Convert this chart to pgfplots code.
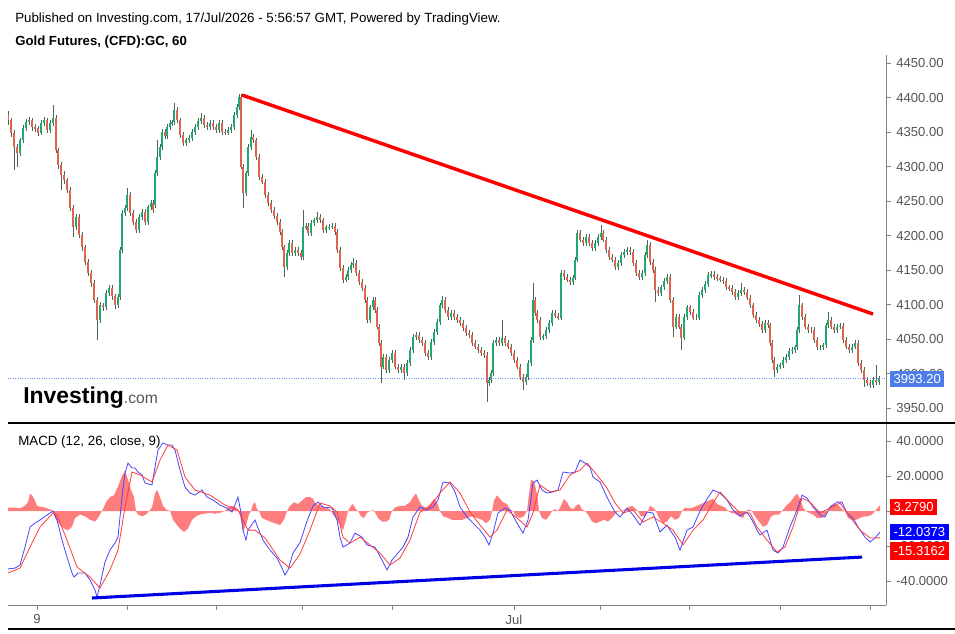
\documentclass[border=0pt]{standalone}
\usepackage{fontspec}
\setmainfont{Liberation Sans}
\usepackage{pgfplots}
\usepackage{pgfplotstable}
\pgfplotsset{compat=1.18}
\definecolor{upc}{RGB}{30,170,110}
\definecolor{dnc}{RGB}{226,98,82}
\definecolor{wickc}{RGB}{40,78,58}
\definecolor{macdc}{RGB}{70,70,255}
\definecolor{sigc}{RGB}{255,60,60}
\definecolor{histc}{RGB}{255,125,125}
\definecolor{axgray}{RGB}{130,130,130}
\definecolor{labgray}{RGB}{85,85,85}
\definecolor{lastblue}{RGB}{78,124,232}
\definecolor{dotblue}{RGB}{110,150,240}

\pgfplotstableread{
x o h l c
8 4374 4380 4360 4367
11 4367 4371 4343 4349
14 4349 4353 4295 4328
17 4328 4332 4299 4320
20 4320 4342 4316 4338
23 4338 4360 4334 4356
26 4356 4369 4352 4364
29 4364 4372 4360 4367
32 4367 4371 4352 4357
35 4357 4361 4350 4356
38 4356 4359 4344 4349
41 4349 4367 4345 4363
44 4363 4372 4359 4367
47 4367 4370 4349 4353
50 4353 4368 4349 4363
53 4363 4389 4359 4370
56 4370 4374 4319 4324
58 4324 4327 4297 4302
61 4302 4306 4266 4288
64 4288 4293 4275 4280
67 4280 4284 4261 4266
70 4266 4270 4235 4240
73 4240 4244 4198 4212
76 4212 4231 4208 4227
79 4227 4231 4196 4201
82 4201 4205 4178 4183
85 4183 4187 4157 4162
88 4162 4166 4141 4146
91 4146 4150 4126 4131
94 4131 4135 4102 4107
97 4107 4111 4049 4078
100 4078 4104 4074 4099
103 4099 4103 4090 4096
106 4096 4121 4092 4117
109 4117 4129 4113 4124
112 4124 4128 4107 4112
115 4112 4116 4094 4099
118 4099 4115 4095 4111
120 4111 4183 4107 4179
122 4179 4237 4175 4233
125 4233 4244 4229 4240
127 4240 4269 4236 4259
130 4259 4263 4228 4233
133 4233 4237 4215 4220
136 4220 4224 4203 4208
139 4208 4231 4204 4227
142 4227 4238 4223 4234
145 4234 4238 4215 4220
148 4220 4245 4216 4241
151 4241 4252 4237 4247
153 4247 4251 4232 4237
155 4245 4295 4240 4291
157 4291 4338 4287 4314
160 4314 4332 4310 4328
162 4328 4354 4324 4350
165 4350 4354 4340 4344
167 4344 4361 4340 4357
170 4357 4367 4353 4363
172 4363 4368 4359 4364
174 4364 4392 4360 4382
177 4382 4386 4363 4367
180 4367 4371 4342 4346
183 4346 4350 4330 4334
186 4334 4342 4330 4338
189 4338 4345 4334 4341
192 4341 4354 4337 4350
195 4350 4361 4346 4357
198 4357 4370 4353 4366
201 4366 4378 4362 4370
204 4370 4374 4356 4360
207 4360 4364 4353 4357
210 4357 4367 4353 4363
213 4363 4367 4353 4357
216 4357 4361 4349 4353
219 4353 4367 4349 4363
222 4363 4367 4346 4350
225 4350 4354 4345 4349
228 4349 4357 4345 4353
231 4353 4361 4349 4357
234 4357 4379 4353 4375
237 4375 4390 4371 4386
239 4386 4405 4382 4401
241 4401 4405 4296 4300
243 4300 4304 4240 4262
246 4262 4294 4258 4290
248 4290 4332 4286 4328
251 4328 4353 4324 4343
253 4343 4347 4334 4338
256 4338 4342 4310 4314
259 4314 4318 4281 4285
262 4285 4289 4274 4278
265 4278 4282 4255 4259
268 4259 4263 4243 4247
271 4247 4251 4233 4237
274 4237 4241 4224 4228
277 4228 4232 4216 4220
280 4220 4224 4201 4205
282 4205 4209 4179 4183
284 4183 4187 4140 4154
287 4154 4179 4150 4175
289 4175 4193 4171 4189
292 4189 4193 4171 4175
295 4175 4183 4171 4179
298 4179 4183 4171 4175
301 4175 4179 4165 4169
303 4169 4237 4165 4212
306 4212 4218 4208 4214
308 4214 4218 4200 4204
311 4204 4222 4200 4218
314 4218 4226 4214 4222
317 4222 4234 4218 4227
320 4227 4231 4218 4222
323 4222 4226 4204 4208
326 4208 4216 4204 4212
329 4212 4217 4208 4213
332 4213 4218 4209 4214
335 4214 4218 4201 4205
337 4205 4209 4175 4179
340 4179 4183 4149 4153
343 4153 4157 4132 4136
346 4136 4144 4132 4140
348 4140 4154 4136 4150
351 4150 4161 4146 4157
353 4157 4167 4153 4160
356 4160 4164 4142 4146
359 4146 4150 4129 4133
362 4133 4137 4120 4124
365 4124 4128 4103 4107
367 4107 4111 4074 4078
370 4078 4100 4074 4096
373 4096 4111 4092 4107
375 4107 4111 4088 4092
377 4092 4096 4064 4068
379 4068 4072 4040 4044
381 4044 4048 3986 4010
383 4010 4028 4006 4024
386 4024 4028 4001 4005
389 4005 4024 4001 4020
392 4020 4034 4016 4030
395 4030 4034 4006 4010
398 4010 4014 4001 4005
401 4005 4014 4001 4010
404 4010 4014 3991 4001
407 4001 4019 3997 4015
410 4015 4038 4011 4034
413 4034 4057 4030 4053
416 4053 4060 4049 4056
419 4056 4060 4045 4049
422 4049 4053 4040 4044
425 4044 4048 4026 4030
428 4030 4034 4020 4024
431 4024 4050 4020 4046
434 4046 4064 4042 4060
437 4060 4079 4056 4075
440 4075 4103 4071 4099
442 4099 4112 4095 4107
445 4107 4111 4088 4092
448 4092 4096 4078 4082
451 4082 4092 4078 4088
454 4088 4092 4078 4082
457 4082 4086 4074 4078
460 4078 4082 4069 4073
463 4073 4077 4062 4066
466 4066 4070 4055 4059
469 4059 4063 4052 4056
472 4056 4060 4040 4044
475 4044 4048 4035 4039
478 4039 4043 4030 4034
481 4034 4038 4026 4030
484 4030 4034 4023 4027
487 4027 4031 3959 3986
489 3986 3995 3982 3991
491 3991 4005 3987 4001
493 4001 4048 3997 4044
496 4044 4053 4040 4049
499 4049 4053 4040 4044
502 4044 4078 4040 4051
505 4051 4055 4040 4044
508 4044 4048 4035 4039
511 4039 4043 4026 4030
514 4030 4034 4016 4020
517 4020 4024 4006 4010
520 4010 4014 3991 3995
523 3995 3999 3976 3988
526 3988 3999 3984 3995
528 3995 4019 3991 4015
531 4015 4053 4011 4049
533 4049 4131 4045 4107
535 4107 4111 4084 4088
537 4088 4092 4074 4078
540 4078 4082 4049 4053
543 4053 4058 4049 4054
546 4054 4067 4050 4063
549 4063 4077 4059 4073
552 4073 4092 4069 4088
555 4088 4092 4080 4084
558 4084 4088 4077 4081
561 4081 4150 4077 4146
564 4146 4150 4136 4140
567 4140 4144 4132 4136
570 4136 4140 4129 4133
573 4133 4143 4129 4139
575 4139 4169 4135 4165
577 4165 4208 4161 4204
580 4204 4208 4190 4194
583 4194 4198 4185 4189
586 4189 4202 4185 4198
589 4198 4202 4185 4189
592 4189 4193 4178 4182
595 4182 4193 4178 4189
598 4189 4202 4185 4198
601 4198 4215 4194 4204
603 4204 4208 4190 4194
606 4194 4198 4175 4179
609 4179 4183 4165 4169
612 4169 4173 4161 4165
615 4165 4169 4150 4154
618 4154 4164 4150 4160
621 4160 4176 4156 4172
624 4172 4180 4168 4176
627 4176 4183 4172 4179
630 4179 4183 4172 4176
633 4176 4180 4156 4160
636 4160 4164 4142 4146
639 4146 4150 4136 4140
642 4140 4150 4136 4146
645 4146 4176 4142 4172
647 4172 4193 4168 4186
650 4186 4190 4158 4162
653 4162 4166 4146 4150
655 4150 4154 4104 4121
658 4121 4125 4113 4117
661 4117 4129 4113 4125
664 4125 4138 4121 4134
667 4134 4144 4130 4140
670 4140 4144 4103 4107
673 4107 4111 4053 4068
676 4068 4086 4064 4082
679 4082 4086 4064 4068
681 4068 4072 4034 4052
684 4052 4086 4048 4082
687 4082 4100 4078 4096
690 4096 4100 4085 4089
693 4089 4093 4077 4081
696 4081 4086 4077 4081
699 4081 4118 4077 4114
702 4114 4125 4110 4121
705 4121 4134 4117 4130
708 4130 4147 4126 4143
711 4143 4148 4139 4144
714 4144 4148 4136 4140
717 4140 4144 4134 4138
720 4138 4142 4132 4136
723 4136 4140 4130 4134
726 4134 4138 4121 4125
729 4125 4129 4120 4124
732 4124 4128 4114 4118
735 4118 4122 4107 4111
738 4111 4121 4107 4117
741 4117 4131 4113 4121
744 4121 4125 4114 4118
747 4118 4122 4106 4110
750 4110 4114 4095 4099
753 4099 4103 4081 4085
756 4085 4089 4074 4078
759 4078 4082 4068 4072
762 4072 4076 4059 4063
765 4063 4077 4059 4073
768 4073 4077 4066 4070
770 4070 4074 4040 4044
772 4044 4048 4016 4020
774 4020 4024 3995 4005
777 4005 4014 4001 4010
780 4010 4016 4006 4012
783 4012 4024 4008 4020
786 4020 4028 4016 4024
789 4024 4037 4020 4033
792 4033 4038 4029 4034
795 4034 4042 4030 4038
797 4038 4067 4034 4063
799 4063 4114 4059 4099
802 4099 4103 4078 4082
805 4082 4086 4064 4068
808 4068 4072 4059 4063
811 4063 4067 4059 4063
814 4063 4067 4045 4049
817 4049 4053 4034 4038
820 4038 4042 4034 4038
823 4038 4045 4034 4041
826 4041 4074 4037 4070
828 4070 4089 4066 4078
831 4078 4082 4064 4068
834 4068 4072 4059 4063
837 4063 4072 4059 4068
840 4068 4073 4064 4069
843 4069 4073 4045 4049
846 4049 4053 4035 4039
849 4039 4043 4030 4034
852 4034 4043 4030 4039
855 4039 4048 4035 4044
858 4044 4048 4011 4015
861 4015 4019 4001 4005
864 4005 4009 3980 3991
867 3991 3995 3982 3986
870 3986 3990 3979 3983
873 3983 3995 3979 3991
876 3991 4012 3984 3988
879 3988 3997 3984 3993.2
}\candles

\begin{document}
\begin{tikzpicture}[x=0.75pt,y=-0.75pt]
\path[use as bounding box, fill=white] (0,0) rectangle (955,633);

% ---------------- price panel ----------------
\begin{axis}[
  at={(6pt,-317.25pt)}, anchor=south west,
  scale only axis, width=658.5pt, height=276pt,
  xmin=8, xmax=886, ymin=3928.4, ymax=4461.6,
  axis x line=none, axis y line=right,
  axis line style={-, draw=axgray, line width=0.6pt},
  xtick=\empty, ytick={3950,4000,4050,4100,4150,4200,4250,4300,4350,4400,4450},
  tick align=outside, major tick length=3.75pt,
  tick style={draw=axgray, line width=0.6pt},
  yticklabel style={font=\fontsize{9.8}{10}\selectfont, color=labgray, xshift=0.5pt},
  /pgf/number format/.cd, fixed, fixed zerofill, precision=2, 1000 sep={}, assume math mode=true
]
\addplot[draw=none, mark=none, error bars/.cd, y dir=both, y explicit, error mark=none,
  error bar style={draw=wickc, line width=0.6pt, opacity=0.85}]
  table[x=x, y expr=(\thisrow{h}+\thisrow{l})/2, y error expr=(\thisrow{h}-\thisrow{l})/2] {\candles};
\addplot[draw=none, mark=none, restrict expr to domain={\thisrow{c}-\thisrow{o}}{0:10000},
  error bars/.cd, y dir=both, y explicit, error mark=none,
  error bar style={draw=upc, line width=1.3pt}]
  table[x=x, y expr=(\thisrow{o}+\thisrow{c})/2, y error expr=(\thisrow{c}-\thisrow{o})/2] {\candles};
\addplot[draw=none, mark=none, restrict expr to domain={\thisrow{o}-\thisrow{c}}{0.001:10000},
  error bars/.cd, y dir=both, y explicit, error mark=none,
  error bar style={draw=dnc, line width=1.3pt}]
  table[x=x, y expr=(\thisrow{o}+\thisrow{c})/2, y error expr=(\thisrow{o}-\thisrow{c})/2] {\candles};
\addplot[dotblue, densely dotted, line width=0.8pt] coordinates {(8,3993.2) (886,3993.2)};
\addplot[red, line width=2.6pt] coordinates {(242,4403.6) (873,4086.3)};
\end{axis}

% ---------------- MACD panel ----------------
\begin{axis}[
  at={(6pt,-453.75pt)}, anchor=south west,
  scale only axis, width=658.5pt, height=136.5pt,
  xmin=8, xmax=886, ymin=-53.7, ymax=50.3,
  axis x line=bottom, axis y line=right,
  axis line style={-, draw=axgray, line width=0.6pt},
  xtick={37,127,216,302,392,514,600,689,780,870},
  xticklabels={9,,,,,Jul,,,,},
  ytick={-40,-20,0,20,40},
  tick align=outside, major tick length=3.75pt,
  tick style={draw=axgray, line width=0.6pt},
  xticklabel style={font=\fontsize{9.8}{10}\selectfont, color=labgray},
  yticklabel style={font=\fontsize{9.8}{10}\selectfont, color=labgray, xshift=0.5pt},
  /pgf/number format/.cd, fixed, fixed zerofill, precision=4, 1000 sep={}, assume math mode=true
]
\addplot[draw=none, fill=histc] coordinates {
(8,2)(15,2)(20,1.5)(25,3)(28,5)(30,10)(32,9)(35,6)(37,3)(40,2.5)(45,2)(50,1)(53,0)(55,-4)(60,-8)(64,-10)(68,-11)(72,-9)(75,-4)(80,-2)(85,-3)(90,-5)(95,-6)(98,-4)(102,0)(106,5)(110,8)(114,9)(118,14)(122,20)(125,23)(128,18)(131,12)(134,8)(136,0)(138,-2)(142,-3)(146,-2)(149,0)(152,2)(155,10)(157,12)(160,8)(163,3)(166,1)(170,0)(173,-5)(177,-8)(180,-10)(184,-12)(188,-10)(192,-5)(196,-3)(200,-2)(205,-1.5)(210,-1)(215,-1.5)(220,-1)(225,0)(228,2)(232,3)(236,2)(239,0)(241,-5)(243,-12)(246,-8)(249,-2)(251,0)(253,4)(255,5)(257,1)(259,0)(262,-4)(266,-5)(270,-6)(275,-7)(280,-8)(284,-5)(287,0)(290,3)(294,5)(298,4)(302,6)(306,8)(310,8)(313,7)(316,4)(320,3)(325,2)(330,1)(333,-2)(336,-4)(340,-8)(343,-11)(346,-5)(348,0)(351,3)(353,4)(356,1)(358,0)(361,-3)(364,-4)(367,-1)(370,0)(374,0.5)(378,-4)(382,-6)(386,-6)(389,-5)(392,0)(395,2)(400,3)(405,3)(410,5)(413,8)(416,10)(419,6)(422,3)(426,2)(430,4)(434,7)(437,5)(440,0)(443,-3)(448,-4)(452,-5)(457,-5)(462,-5)(467,-4)(472,-3)(477,-4)(482,-5)(486,-7)(490,-5)(492,0)(494,6)(497,9)(500,7)(503,5)(507,4)(510,1)(513,0)(516,-3)(520,-4)(524,-3)(527,0)(529,10)(531,18)(534,17)(537,10)(539,0)(542,-4)(546,-5)(549,-3)(552,0)(555,1)(558,0)(561,3)(564,7)(567,5)(570,2)(573,1)(576,3)(579,4)(582,1)(585,0)(588,-2)(592,-6)(596,-7)(600,-6)(604,-5)(608,-6)(612,-4)(616,-1)(620,0)(624,0.5)(628,2)(632,3)(636,1)(638,0)(641,-3)(645,-3)(648,0)(650,3)(653,2)(656,0)(659,-4)(663,-7)(667,-6)(671,-3)(675,-5)(679,-4)(682,0)(685,2)(689,1.5)(693,2)(697,3)(701,4)(705,5)(709,6)(713,7)(717,4)(721,3)(725,2)(728,0)(731,-1)(735,-1.5)(739,-3)(743,-4)(746,0)(749,1)(752,0)(755,-3)(759,-6)(763,-9)(767,-8)(771,-3)(775,-2)(779,-2)(782,0)(786,3)(790,5)(794,8)(797,10)(800,7)(803,2)(806,0)(809,-1)(813,-2)(817,-4)(821,-4)(825,-3)(828,0)(831,3)(835,4)(839,3)(842,1)(845,0)(848,-4)(852,-5)(856,-5)(860,-4)(864,-3)(868,-3)(872,-2)(875,0)(878,2)(880,3.3)
} \closedcycle;
\addplot[macdc, line width=0.6pt] coordinates {
(8,-33.1)(15,-32.6)(20,-30.9)(25,-20.6)(30,-9.1)(35,-6.9)(40,-5.1)(47,-2.3)(53,0)(57,-5.1)(62,-16.6)(67,-26.3)(72,-35.4)(74,-37.7)(78,-35.4)(85,-35.4)(90,-39.4)(95,-45.1)(97,-49.1)(100,-42.3)(105,-29.1)(110,-22.3)(115,-18.3)(118,-14.9)(122,8.0)(125,21.7)(128,27.4)(132,24.6)(135,24.6)(138,22.3)(142,20.6)(145,16.0)(152,14.9)(155,25.1)(158,34.9)(163,38.9)(167,37.7)(172,37.7)(175,34.9)(180,23.4)(185,13.7)(190,10.3)(195,9.1)(202,12.0)(207,8.0)(213,6.3)(220,3.4)(227,1.7)(232,-0.6)(235,3.4)(238,8.0)(241,-1.1)(243,-10.9)(246,-16.6)(248,-10.9)(255,-5.1)(258,-9.7)(263,-16.6)(270,-22.3)(277,-26.9)(282,-32.6)(285,-36.6)(288,-33.7)(293,-24.0)(300,-18.0)(307,-5.7)(313,2.9)(318,5.1)(323,2.3)(332,1.7)(337,-5.1)(340,-14.9)(343,-20.6)(350,-18.3)(355,-12.6)(362,-14.9)(367,-19.4)(375,-20.6)(382,-28.0)(387,-33.7)(392,-28.0)(398,-24.0)(403,-20.6)(408,-14.9)(413,-3.4)(420,2.3)(427,0.6)(433,2.3)(438,6.3)(443,16.6)(450,16.0)(455,10.9)(460,2.3)(467,-3.4)(473,-6.9)(480,-10.9)(485,-14.9)(489,-19.4)(493,-12.6)(498,-1.1)(505,1.7)(510,0.6)(517,-6.9)(523,-12.6)(528,-5.1)(533,16.0)(537,17.7)(542,12.0)(547,10.3)(553,10.9)(558,12.0)(563,22.3)(570,21.7)(575,22.3)(580,29.1)(585,27.4)(590,25.1)(593,19.4)(600,16.6)(605,10.3)(610,4.6)(615,-0.6)(620,-3.4)(627,1.7)(633,-2.3)(640,-8.0)(647,-0.6)(653,-1.1)(660,-12.0)(667,-8.0)(670,-10.9)(675,-14.9)(680,-22.3)(687,-10.9)(693,-9.1)(700,0)(707,6.9)(713,12.0)(720,10.3)(727,6.3)(733,0.6)(740,-2.9)(747,-0.6)(752,-5.1)(757,-10.9)(760,-13.7)(767,-10.9)(770,-16.6)(773,-22.3)(778,-24.0)(783,-20.6)(790,-9.1)(797,0.6)(802,9.1)(807,7.4)(813,2.3)(820,-2.3)(825,-3.4)(830,2.3)(837,5.1)(842,5.1)(847,-1.1)(853,-4.0)(858,-9.1)(865,-14.9)(870,-17.7)(875,-15.4)(880,-12.04)
};
\addplot[sigc, line width=0.6pt] coordinates {
(8,-35.4)(20,-32.6)(30,-20.6)(40,-9.1)(53,-1.1)(57,-2.3)(67,-16.6)(77,-32.0)(90,-37.7)(100,-44.0)(110,-33.7)(118,-22.3)(125,2.3)(132,22.3)(140,20.6)(152,16.6)(160,29.1)(168,37.7)(177,34.9)(185,19.4)(195,12.0)(210,9.1)(225,3.4)(238,0.6)(248,-10.9)(255,-10.9)(265,-15.4)(280,-28.0)(290,-32.6)(300,-24.6)(310,-10.9)(320,4.6)(330,2.9)(337,-0.6)(343,-14.9)(350,-18.3)(360,-14.9)(370,-19.4)(380,-24.0)(390,-30.9)(400,-26.9)(410,-16.6)(420,-0.6)(430,2.3)(440,10.3)(450,16.6)(460,10.3)(470,-0.6)(480,-8.0)(490,-14.9)(497,-10.9)(507,0.6)(517,-4.0)(527,-9.1)(533,-1.1)(540,14.9)(550,10.9)(560,12.0)(570,20.6)(580,23.4)(587,27.4)(597,20.6)(607,13.1)(615,4.6)(623,-1.1)(633,0.6)(643,-6.3)(653,-3.4)(663,-6.9)(673,-10.9)(683,-19.4)(693,-10.9)(703,-5.1)(713,4.6)(720,10.9)(730,4.6)(740,-1.1)(750,-1.1)(757,-9.1)(767,-16.6)(777,-23.4)(785,-20.6)(793,-9.1)(802,7.4)(810,5.1)(820,-1.1)(830,1.7)(840,4.6)(850,-3.4)(860,-10.9)(870,-15.4)(880,-15.32)
};
\addplot[color={rgb,255:red,0;green,0;blue,230}, line width=2.3pt] coordinates {(92,-49.7) (862,-26.3)};
\end{axis}

% panel separators
\draw[black, line width=1.4pt] (8,423) -- (955,423);
\draw[black, line width=1.4pt] (8,629) -- (955,629);

% header texts
\node[anchor=base west, inner sep=0pt, font=\fontsize{10}{11}\selectfont] at (15,22)
  {Published on Investing.com, 17/Jul/2026 - 5:56:57 GMT, Powered by TradingView.};
\node[anchor=base west, inner sep=0pt, font=\bfseries\fontsize{9.9}{11}\selectfont] at (15,45)
  {Gold Futures, (CFD):GC, 60};
\node[anchor=base west, inner sep=0pt, font=\fontsize{10}{11}\selectfont] at (18,445)
  {MACD (12, 26, close, 9)};

% logo
\node[anchor=base west, inner sep=0pt] at (23,403)
  {{\bfseries\fontsize{17.2}{18}\selectfont Investing}{\color{labgray}\fontsize{11.8}{12}\selectfont .com}};

% value boxes
\node[anchor=west, fill=lastblue, text=white, inner xsep=2.5pt, inner ysep=0pt,
  minimum height=11.5pt, font=\fontsize{9.8}{10}\selectfont] at (890,379) {3993.20};
\node[anchor=west, fill=red, text=white, inner xsep=2.5pt, inner ysep=0pt,
  minimum height=11.5pt, font=\fontsize{9.8}{10}\selectfont] at (890,507) {3.2790};
\node[anchor=west, fill={rgb,255:red,0;green,0;blue,255}, text=white, inner xsep=2.5pt, inner ysep=0pt,
  minimum height=12.5pt, font=\fontsize{9.8}{10}\selectfont] at (890,532) {-12.0373};
\node[anchor=west, fill=red, text=white, inner xsep=2.5pt, inner ysep=0pt,
  minimum height=13pt, font=\fontsize{9.8}{10}\selectfont] at (890,551) {-15.3162};
\end{tikzpicture}
\end{document}
